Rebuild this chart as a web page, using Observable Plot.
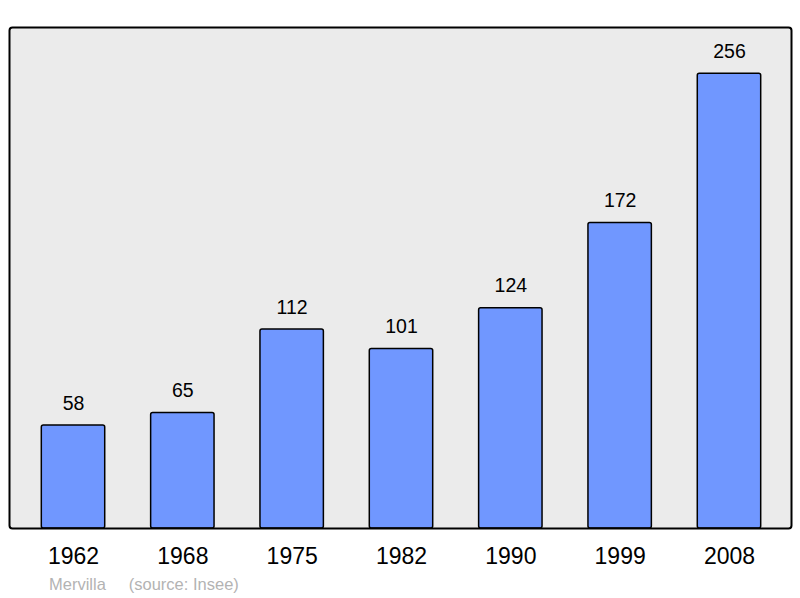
<!DOCTYPE html>
<html><head><meta charset="utf-8">
<script src="https://cdn.jsdelivr.net/npm/d3@7"></script>
<script src="https://cdn.jsdelivr.net/npm/@observablehq/plot@0.6"></script>
<style>
body{margin:0;background:#fff;font-family:"Liberation Sans",Arial,sans-serif;}
#cap{height:26px;padding-left:49px;font-size:16.5px;color:#b3b3b3;line-height:24px;white-space:pre;}
</style>
</head><body>
<div id="chart"></div>
<div id="cap">Mervilla     (source: Insee)</div>
<script>
const years = ["1962","1968","1975","1982","1990","1999","2008"];
const population = [58, 65, 112, 101, 124, 172, 256];
const data = years.map((y, i) => ({year: y, value: population[i]}));

const chart = Plot.plot({
  width: 800,
  height: 572,
  marginTop: 27,
  marginBottom: 44,
  marginLeft: 9,
  marginRight: 9,
  style: {fontFamily: "'Liberation Sans', Arial, sans-serif", background: "#fff"},
  x: {domain: years, paddingInner: 0.42, paddingOuter: 0.29, range: [9.6, 792.4], round: false, axis: null},
  y: {domain: [0, 282], axis: null},
  marks: [
    Plot.frame({fill: "#ebebeb", stroke: "none"}),
    Plot.barY(data, {x: "year", y: "value", fill: "#7097ff", stroke: "#000", strokeWidth: 1.5, rx: 2}),
    Plot.frame({stroke: "#000", strokeWidth: 2, rx: 3}),
    Plot.text(data, {x: "year", y: "value", text: d => String(d.value), dy: -22, fontSize: 19.5, fill: "#000"}),
    Plot.text(data, {x: "year", text: "year", frameAnchor: "bottom", dy: 35, fontSize: 23, fill: "#000"})
  ]
});
document.getElementById("chart").append(chart);
</script>
</body></html>
